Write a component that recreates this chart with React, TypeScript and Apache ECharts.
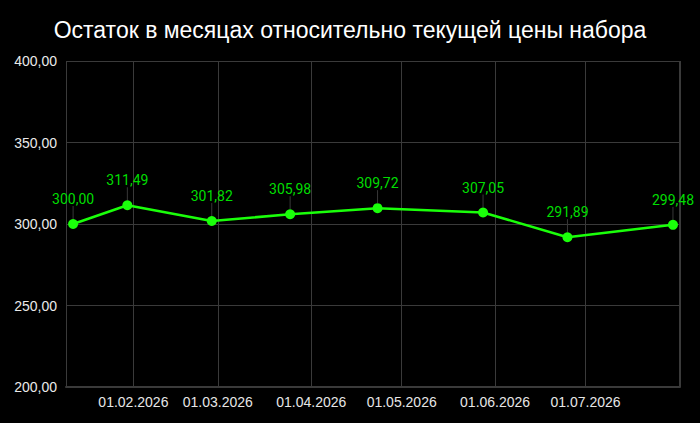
import React, { useEffect, useRef } from "react";
import * as echarts from "echarts";

const titleText = "Остаток в месяцах относительно текущей цены набора";
const dates = [
  "2026-01-12",
  "2026-01-30",
  "2026-02-27",
  "2026-03-25",
  "2026-04-23",
  "2026-05-28",
  "2026-06-25",
  "2026-07-30",
];
const values = [300.0, 311.49, 301.82, 305.98, 309.72, 307.05, 291.89, 299.48];
const yMin = 200;
const yMax = 400;
const yStep = 50;

function toTs(s: string) {
  const [y, m, d] = s.split("-").map(Number);
  return new Date(y, m - 1, d).getTime();
}
function fmtNum(v: number) {
  return v.toFixed(2).replace(".", ",");
}
function pad(n: number) {
  return n < 10 ? "0" + n : "" + n;
}

export default function App() {
  const ref = useRef<HTMLDivElement>(null);
  useEffect(() => {
    if (!ref.current) return;
    document.body.style.margin = "0";
    document.body.style.background = "#000";
    const chart = echarts.init(ref.current, null, { renderer: "svg" });
    const xMin = new Date(2026, 0, 9, 15, 30).getTime();
    const xMax = new Date(2026, 7, 1, 8, 0).getTime();
    chart.setOption({
      animation: false,
      backgroundColor: "#000000",
      title: {
        text: titleText,
        left: "center",
        top: 13,
        textStyle: {
          color: "#ffffff",
          fontSize: 23,
          fontWeight: "normal",
          fontFamily: "Liberation Sans, Arial, sans-serif",
        },
      },
      grid: { left: 66, right: 20, top: 61, bottom: 36, containLabel: false },
      xAxis: {
        type: "time",
        min: xMin,
        max: xMax,
        splitNumber: 7,
        axisLine: { show: true, lineStyle: { color: "#3a3a3a", width: 2 } },
        axisTick: { show: false },
        splitLine: { show: true, lineStyle: { color: "#3a3a3a", width: 1 } },
        axisLabel: {
          color: "#e6e6e6",
          fontSize: 14,
          fontFamily: "Liberation Sans, Arial, sans-serif",
          margin: 8,
          showMaxLabel: false,
          formatter: (v: number) => {
            const d = new Date(v);
            if (d.getMonth() === 7) return "";
            return pad(d.getDate()) + "." + pad(d.getMonth() + 1) + "." + d.getFullYear();
          },
        },
      },
      yAxis: {
        type: "value",
        min: yMin,
        max: yMax,
        interval: yStep,
        axisLine: { show: false },
        axisTick: { show: false },
        splitLine: { show: true, lineStyle: { color: "#3a3a3a", width: 1 } },
        axisLabel: {
          color: "#eaeaea",
          fontSize: 14,
          fontFamily: "Liberation Sans, Arial, sans-serif",
          margin: 9,
          formatter: (v: number) => fmtNum(v),
        },
      },
      series: [
        {
          type: "line",
          data: dates.map((d, i) => [toTs(d), values[i]]),
          symbol: "circle",
          symbolSize: 10,
          lineStyle: { color: "#1aff0a", width: 2.5 },
          itemStyle: { color: "#1aff0a" },
          label: {
            show: true,
            position: "top",
            distance: 5,
            color: "#00dd00",
            fontSize: 14,
            fontFamily: "Roboto, sans-serif",
            formatter: (p: any) => fmtNum(p.value[1]),
          },
          labelLayout: { dy: -8 },
          labelLine: { show: true, lineStyle: { color: "#383838", width: 1 } },
        },
      ],
    });
    return () => chart.dispose();
  }, []);
  return (
    <div
      ref={ref}
      style={{ position: "fixed", left: 0, top: 0, width: 700, height: 423 }}
    />
  );
}
